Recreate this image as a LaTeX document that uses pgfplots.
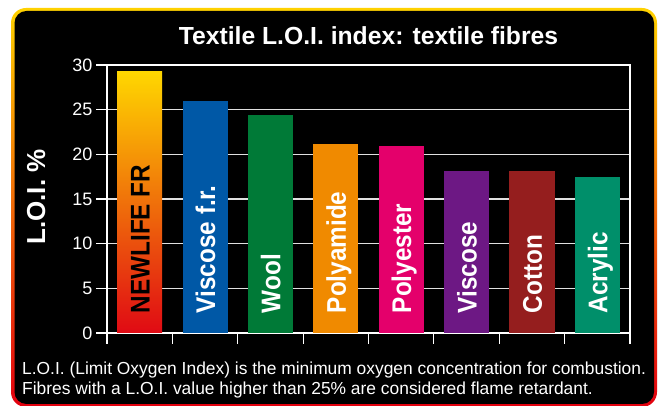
\documentclass[border=0pt]{standalone}
\usepackage{pgfplots}
\pgfplotsset{compat=1.18}
\usepackage{fontspec}
\setmainfont{Liberation Sans}
\newfontfamily\labelfont[FakeStretch=0.9]{Liberation Sans}
\definecolor{frameYellow}{HTML}{FFD200}
\definecolor{frameOrange}{HTML}{F39200}
\definecolor{frameRed}{HTML}{E3000F}
\definecolor{barTop}{HTML}{FFD700}
\definecolor{barMid}{HTML}{F29A00}
\definecolor{barBot}{HTML}{E00A14}
\definecolor{cBlue}{HTML}{0058A6}
\definecolor{cGreen}{HTML}{007A37}
\definecolor{cOrange}{HTML}{F08A00}
\definecolor{cMagenta}{HTML}{E4006B}
\definecolor{cPurple}{HTML}{6D1884}
\definecolor{cDarkRed}{HTML}{951E1E}
\definecolor{cTeal}{HTML}{008F6A}
\definecolor{gridgrey}{HTML}{E0E0E0}
\begin{document}
\begin{tikzpicture}[x=1pt,y=1pt]
\useasboundingbox (0,0) rectangle (660,406);
\fill[white] (0,0) rectangle (660,406);
% frame
\shade[top color=frameYellow, middle color=frameOrange, bottom color=frameRed, rounded corners=15pt] (11,-1) rectangle (657,398);
\fill[black, rounded corners=12pt] (14.5,2) rectangle (654,395);
% title
\node[anchor=base, text=white, inner sep=0] at (368.5,361) {\fontsize{24.7}{28}\selectfont\bfseries Textile L.O.I. index: textile fibres};
% y label
\node[rotate=90, anchor=base, text=white, inner sep=0] at (45,209) {\fontsize{26}{28}\selectfont\bfseries L.O.I. \%};
\begin{axis}[
  at={(107pt,73pt)}, anchor=south west,
  scale only axis, width=523pt, height=268pt,
  xmin=-0.5, xmax=7.5, ymin=0, ymax=30,
  xtick={-0.5,0.5,...,7.5}, xticklabel={},
  ytick={0,5,...,30},
  xtick pos=left, ytick pos=left,
  tick align=outside, major tick length=11pt,
  tick style={white, line width=1.2pt},
  axis line style={white, line width=1.2pt},
  ymajorgrids, major grid style={gridgrey, line width=1.2pt},
  yticklabel style={font=\fontsize{18}{18}\selectfont, text=white},
  /pgf/number format/assume math mode=true,
  mybar/.style={ybar, bar width=0.69, bar shift=0pt, draw=none},
  clip=false,
]
\addplot[mybar, top color=barTop, middle color=barMid, bottom color=barBot] coordinates {(0,29.3)};
\addplot[mybar, fill=cBlue] coordinates {(1,26.0)};
\addplot[mybar, fill=cGreen] coordinates {(2,24.4)};
\addplot[mybar, fill=cOrange] coordinates {(3,21.2)};
\addplot[mybar, fill=cMagenta] coordinates {(4,20.9)};
\addplot[mybar, fill=cPurple] coordinates {(5,18.1)};
\addplot[mybar, fill=cDarkRed] coordinates {(6,18.1)};
\addplot[mybar, fill=cTeal] coordinates {(7,17.5)};
\foreach \i/\t/\c in {0/NEWLIFE FR/black,1/Viscose f.r./white,2/Wool/white,3/Polyamide/white,4/Polyester/white,5/Viscose/white,6/Cotton/white,7/Acrylic/white}{
  \edef\temp{\noexpand\node[rotate=90, anchor=base west, inner sep=0, text=\c] at ([xshift=10pt]axis cs:\i,2.2) {\noexpand\fontsize{27}{28}\noexpand\selectfont\noexpand\labelfont\noexpand\bfseries \t};}
  \temp
}
\end{axis}
% bottom text
\node[anchor=base west, text=white, inner sep=0] at (22,31) {\fontsize{17.4}{20}\selectfont L.O.I. (Limit Oxygen Index) is the minimum oxygen concentration for combustion.};
\node[anchor=base west, text=white, inner sep=0] at (22,11) {\fontsize{17.4}{20}\selectfont Fibres with a L.O.I. value higher than 25\% are considered flame retardant.};
\end{tikzpicture}
\end{document}
